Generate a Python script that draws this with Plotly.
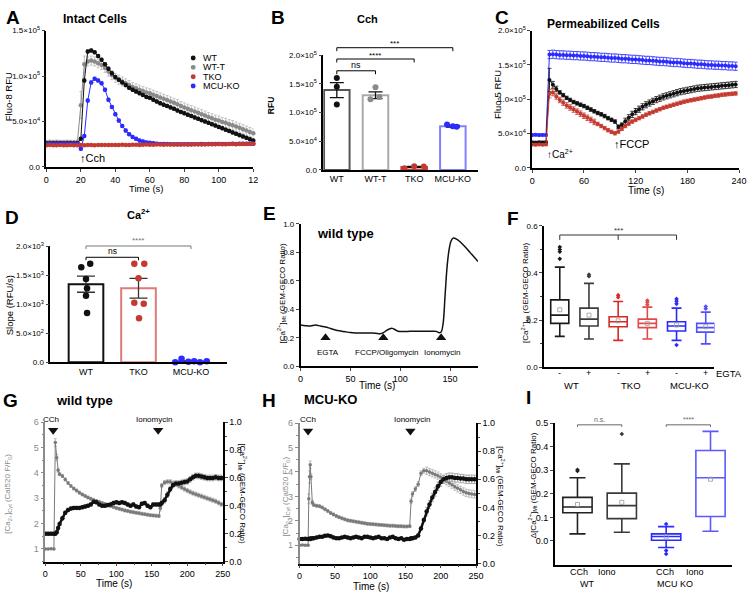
import plotly.graph_objects as go

W, H = 756, 597
FONT = "Liberation Sans, Arial, sans-serif"

BLACK = "#111111"
GREY = "#8a8a8a"
RED = "#c43a31"
BLUE = "#2b2bff"


def px(x):
    return x / W


def py(y):
    return 1 - y / H


# ---------------- data ----------------
# A: intact cells, Fluo-8 RFU
a_time = list(range(0, 122, 2))
a_wt = [26000, 25800, 26100, 25900, 26000, 26200, 25900, 26000, 25800, 26100,
        31000, 95000, 127000, 128000, 126000, 122000, 118000, 113000, 108000, 103000,
        99000, 96000, 93000, 90000, 87000, 85000, 83000, 81000, 79000, 77000,
        76000, 74000, 72000, 70000, 68500, 67000, 65500, 64000, 62000, 60500,
        59000, 57500, 56000, 54500, 53000, 51500, 50000, 48500, 47000, 45500,
        44000, 42500, 41000, 39500, 38000, 36500, 35000, 33500, 32000, 30500, 29000]
a_wtt = [27000, 27200, 26900, 27100, 27000, 26800, 27100, 27000, 26900, 27200,
         68000, 113000, 116000, 117000, 116000, 114000, 112000, 109000, 105000, 101000,
         98000, 96000, 94000, 92000, 90000, 88000, 86500, 85000, 83500, 82000,
         81000, 79500, 78000, 76500, 75000, 73500, 72000, 70500, 69000, 67000,
         65500, 64000, 62500, 61000, 59500, 58000, 56500, 55000, 53500, 52000,
         51000, 49500, 48500, 47000, 46000, 44500, 43000, 41500, 40000, 38500, 37000]
a_wtt_err = [2500] * 10 + [15000, 9000] + [5000] * 49
a_tko = [24000, 24100, 23900, 24000, 24200, 23900, 24000, 24100, 23900, 24000,
         24300, 24000, 24100, 24200, 24000, 24100, 24200, 24300, 24100, 24200,
         24300, 24200, 24400, 24300, 24200, 24400, 24500, 24300, 24400, 24600,
         24500, 24400, 24600, 24700, 24500, 24600, 24800, 24700, 24600, 24800,
         24900, 24700, 24800, 25000, 24900, 24800, 25000, 25100, 24900, 25000,
         25200, 25100, 25000, 25200, 25300, 25100, 25200, 25400, 25300, 25400, 25500]
a_mcu = [25500, 25300, 25600, 25400, 25500, 25700, 25400, 25500, 25300, 25600,
         20000, 34000, 73000, 93000, 97000, 95000, 92000, 85000, 74000, 66000,
         58000, 51000, 45000, 40000, 36000, 33000, 31000, 29000, 28000, 27000,
         26500, 26000, 25600, 25400, 25300, 25200, 25100, 25000, 25000, 24900,
         24900, 25000, 25100, 25000, 25100, 25200, 25100, 25200, 25300, 25200,
         25300, 25400, 25300, 25400, 25500, 25400, 25500, 25600, 25500, 25600, 25600]
a_names = ["WT", "WT-T", "TKO", "MCU-KO"]

# B: Cch peak RFU
b_groups = ["WT", "WT-T", "TKO", "MCU-KO"]
b_mean = [139000, 130000, 5000, 76000]
b_sem = [13000, 6000, 1000, 1500]
b_points = [[160000, 145000, 114000], [144000, 123000, 127000],
            [3000, 6500, 6000], [79000, 75000, 76000]]

# C: permeabilized cells, Fluo-5 RFU
c_time = list(range(0, 240, 4))
c_wt = [37000, 36800, 37200, 36900, 37100,
        128000, 121000, 115000, 110000, 106000, 102000, 99000, 96000, 94000, 92000,
        90000, 87500, 85000, 82500, 80000, 78000, 75500, 72500, 70000, 67500,
        60000, 63000, 68000, 73000, 78000, 82000, 85500, 89000, 92000, 94500,
        97000, 99500, 101500, 103500, 105000, 106500, 108000, 109500, 111000, 112000,
        113000, 114000, 115000, 116000, 116500, 117000, 117500, 118000, 118500, 119000,
        119500, 120000, 120500, 121000, 121500]
c_tko = [34000, 33800, 34200, 33900, 34100,
         108000, 110000, 104000, 99000, 95000, 91000, 88000, 85000, 82000, 79000,
         76000, 73000, 70000, 67000, 64000, 61000, 58000, 55000, 52500, 50500,
         53000, 57000, 61000, 64500, 67500, 70000, 72500, 75000, 77500, 79500,
         81500, 83500, 85500, 87500, 89000, 90500, 92000, 93500, 95000, 96500,
         97500, 98500, 99500, 100500, 101500, 102500, 103500, 104000, 105000, 105500,
         106500, 107000, 107500, 108000, 108500]
c_mcu = [48000, 48200, 47800, 48100, 47900,
         165000, 165500, 165000, 164500, 164500, 164000, 164000, 163500, 163500, 163000,
         163000, 162500, 162000, 162000, 161500, 161000, 161000, 160500, 160000, 160000,
         159500, 159000, 159000, 158500, 158000, 158000, 157500, 157000, 156500, 156500,
         156000, 155500, 155000, 155000, 154500, 154000, 153500, 153500, 153000, 152500,
         152000, 152000, 151500, 151000, 151000, 150500, 150000, 150000, 149500, 149500,
         149000, 149000, 148500, 148500, 148000]
c_wt_err = [2000] * 5 + [17000, 5000, 4000] + [2500] * 19 + [4500] * 33
c_tko_err = [1500] * 5 + [6000, 5000] + [4000] * 12 + [2500] * 41
c_mcu_err = [1500] * 5 + [6000] * 55

# D: Ca2+ slope
d_groups = ["WT", "TKO", "MCU-KO"]
d_mean = [1350, 1280, 15]
d_sem = [140, 170, 8]
d_points = [[1640, 1700, 1440, 1280, 1150, 850],
            [1700, 1700, 1030, 1010, 760, 1450],
            [0, 60, 10, 20, 0, 20]]
d_jitter = [[-0.09, 0.08, 0.0, 0.02, 0.0, 0.02],
            [-0.08, 0.11, -0.08, 0.1, 0.01, 0.0],
            [-0.3, -0.18, -0.05, 0.06, 0.17, 0.3]]
b_jitter = [[0.0, 0.0, 0.0], [0.0, -0.13, 0.1], [-0.25, 0.0, 0.25], [-0.15, 0.1, 0.0]]

# E: wild type GEM-GECO trace
e_time = [0, 5, 10, 15, 20, 25, 30, 35, 40, 45, 50, 55, 60, 65, 70, 75, 80,
          83, 86, 89, 92, 95, 98, 102, 110, 120, 130, 136, 139,
          141, 143, 145, 147, 149, 151, 153, 156, 160, 165, 170, 175, 178]
e_ratio = [0.29, 0.285, 0.283, 0.29, 0.282, 0.276, 0.265, 0.255, 0.248, 0.242,
           0.237, 0.234, 0.233, 0.234, 0.233, 0.232, 0.229,
           0.236, 0.25, 0.262, 0.266, 0.256, 0.246, 0.244, 0.245, 0.246, 0.245, 0.245, 0.236,
           0.24, 0.3, 0.5, 0.7, 0.82, 0.88, 0.9, 0.895, 0.875, 0.84, 0.8, 0.76, 0.735]
e_events = [25, 83, 141]
e_event_labels = ["EGTA", "FCCP/Oligomycin", "Ionomycin"]
e_label_x = [27, 87, 142]

# F: resting mito Ca2+ box stats
f_ticks = ["-", "+", "-", "+", "-", "+"]
f_lower = [0.131, 0.12, 0.114, 0.12, 0.114, 0.099]
f_q1 = [0.186, 0.175, 0.172, 0.168, 0.154, 0.149]
f_median = [0.221, 0.204, 0.193, 0.186, 0.175, 0.168]
f_q3 = [0.286, 0.251, 0.214, 0.204, 0.193, 0.186]
f_upper = [0.425, 0.356, 0.279, 0.255, 0.251, 0.234]
f_mean = [0.244, 0.221, 0.197, 0.186, 0.179, 0.172]
f_out = [[0.46, 0.49, 0.50, 0.51], [0.386, 0.393], [0.297, 0.306],
         [0.265, 0.276, 0.283], [0.094, 0.269, 0.28, 0.29], [0.248, 0.258]]
f_colors = ["#1a1a1a", "#3c3c3c", "#d62a2a", "#e24a4a", "#2a2aff", "#5050ff"]

# G: wild type, cyto + mito
g_time = [0, 4, 8, 12, 14, 16, 18, 20, 24, 28, 32, 36, 40, 44, 48, 52, 56, 60, 64, 68,
          72, 76, 80, 84, 88, 92, 96, 100, 104, 108, 112, 116, 120, 124, 128, 132, 136,
          140, 144, 148, 152, 156, 160, 162, 164, 168, 172, 176, 180, 184, 188, 192, 196,
          200, 204, 208, 212, 216, 220, 224, 228, 232, 236, 240, 244, 248]
g_cyt = [1.0, 1.0, 1.01, 1.0,
         5.2, 4.6, 4.1,
         3.95, 3.88, 3.74, 3.6, 3.48, 3.38, 3.3, 3.22, 3.15, 3.09,
         3.03, 2.98, 2.93, 2.89, 2.85, 2.81, 2.77, 2.73, 2.69, 2.65,
         2.61, 2.58, 2.55, 2.52, 2.5, 2.47, 2.45, 2.43, 2.41, 2.39,
         2.37, 2.35, 2.33, 2.32, 2.31, 2.3,
         2.6,
         3.5, 3.62, 3.65, 3.65, 3.6, 3.55, 3.48, 3.42, 3.36, 3.3,
         3.25, 3.2, 3.16, 3.12, 3.08, 3.04, 3.0, 2.96, 2.92, 2.88,
         2.82, 2.76]
g_mt = [0.2, 0.2, 0.2, 0.2,
        0.2, 0.21, 0.24,
        0.27, 0.31, 0.35, 0.37, 0.38, 0.385, 0.385, 0.385, 0.39, 0.395,
        0.4, 0.41, 0.43, 0.425, 0.41, 0.4, 0.4, 0.405, 0.41, 0.42,
        0.425, 0.42, 0.425, 0.42, 0.41, 0.4, 0.41, 0.395, 0.39, 0.415,
        0.42, 0.4, 0.39, 0.41, 0.41, 0.41,
        0.41,
        0.42, 0.44, 0.48, 0.52, 0.55, 0.56, 0.56, 0.565, 0.57, 0.575,
        0.59, 0.605, 0.615, 0.615, 0.61, 0.605, 0.6, 0.6, 0.6, 0.605,
        0.6, 0.6]
g_cyt_err = [0.02] * 4 + [0.15, 0.12, 0.08] + [0.06] * 36 + [0.1] + [0.08] * 22
g_mt_err = [0.012] * 44 + [0.02] * 22
g_events = [11, 159]

# H: MCU-KO, cyto + mito
h_time = [0, 4, 8, 12, 13, 14, 15, 16, 18, 20, 24, 28, 32, 36, 40, 44, 48, 52, 56, 60,
          64, 68, 72, 76, 80, 84, 88, 92, 96, 100, 104, 108, 112, 116, 120, 124, 128,
          132, 136, 140, 144, 148, 152, 156, 158, 160, 164, 168, 172, 176, 180, 184, 188,
          192, 196, 200, 204, 208, 212, 216, 220, 224, 228, 232, 236, 240, 244, 248]
h_cyt = [1.0, 1.01, 1.0, 1.0,
         2.9, 3.8, 4.3, 3.8, 2.75,
         2.65, 2.62, 2.6, 2.55, 2.47, 2.4, 2.32, 2.26, 2.2, 2.15,
         2.1, 2.06, 2.02, 2.0, 1.98, 1.96, 1.94, 1.92, 1.9, 1.88,
         1.87, 1.86, 1.85, 1.84, 1.83, 1.82, 1.81, 1.8, 1.8, 1.79,
         1.78, 1.78, 1.77, 1.77, 1.78,
         2.8,
         3.1, 3.3, 3.5, 3.95, 4.05, 4.05, 4.0, 3.95, 3.9, 3.85,
         3.78, 3.7, 3.62, 3.55, 3.48, 3.4, 3.33, 3.27, 3.2, 3.15,
         3.12, 3.1, 3.08]
h_mt = [0.175, 0.175, 0.176, 0.175,
        0.175, 0.176, 0.175, 0.178, 0.18,
        0.18, 0.185, 0.19, 0.19, 0.198, 0.2, 0.195, 0.185, 0.18, 0.18,
        0.185, 0.19, 0.185, 0.18, 0.185, 0.19, 0.185, 0.18, 0.19, 0.19,
        0.185, 0.18, 0.185, 0.19, 0.18, 0.18, 0.175, 0.185, 0.19, 0.18,
        0.175, 0.18, 0.17, 0.175, 0.175,
        0.18,
        0.18, 0.185, 0.2, 0.25, 0.31, 0.37, 0.42, 0.47, 0.51, 0.55,
        0.58, 0.6, 0.61, 0.615, 0.615, 0.61, 0.61, 0.605, 0.605, 0.6,
        0.6, 0.6, 0.6]
h_cyt_err = [0.02] * 4 + [0.2, 0.25, 0.15, 0.12, 0.08] + [0.06] * 35 + [0.1] * 6 + [0.15] * 18
h_mt_err = [0.008] * 45 + [0.01] * 5 + [0.03] * 18
h_events = [12, 157]

# I: delta mito Ca2+ box stats
i_lower = [0.03, 0.037, -0.028, 0.041]
i_q1 = [0.12, 0.095, 0.003, 0.104]
i_median = [0.144, 0.15, 0.019, 0.268]
i_q3 = [0.185, 0.203, 0.03, 0.384]
i_upper = [0.268, 0.327, 0.061, 0.465]
i_mean = [0.155, 0.164, 0.017, 0.262]
i_out = [[0.297, 0.302], [0.454], [0.072, -0.041, -0.055], []]
i_colors = ["#222222", "#3a3a3a", "#2a2aff", "#5a5aff"]

# ---------------- geometry (pixels) ----------------
GEO = {
    "A": ((44, 254), (25, 164)),
    "B": ((325, 482), (50, 167)),
    "C": ((537, 747), (25, 165)),
    "D": ((48, 227), (245, 363)),
    "E": ((302, 482), (222, 367)),
    "F": ((549, 722), (224, 368)),
    "G": ((43, 223), (424, 566)),
    "H": ((301, 480), (425, 568)),
    "I": ((560, 740), (425, 569)),
}
rngB = [-0.35, 3.65]
rngD = [-0.68, 2.68]
rngF = [-0.54, 5.3]
rngI = [-0.51, 3.49]


def xmap(panel, v, rng):
    x0, x1 = GEO[panel][0]
    return x0 + (v - rng[0]) / (rng[1] - rng[0]) * (x1 - x0)


fig = go.Figure()


def sc(**kw):
    kw.setdefault("showlegend", False)
    kw.setdefault("cliponaxis", False)
    fig.add_trace(go.Scatter(**kw))


# ---- A
for vals, col, ecol, err in [(a_wtt, GREY, "#b8b8b8", a_wtt_err),
                              (a_wt, BLACK, BLACK, [1500] * 61),
                              (a_mcu, BLUE, BLUE, [1500] * 61),
                              (a_tko, RED, RED, [700] * 61)]:
    sc(x=a_time, y=vals, mode="lines+markers", line=dict(color=col, width=1),
       marker=dict(size=4.5, color=col),
       error_y=dict(type="data", array=err, color=ecol, thickness=0.8, width=1.5),
       xaxis="x", yaxis="y")

# ---- B
b_edge = ["#555555", "#aaaaaa", RED, "#8080ff"]
b_pt = [BLACK, GREY, RED, BLUE]
for i, g in enumerate(b_groups):
    fig.add_trace(go.Bar(x=[i], y=[b_mean[i]], width=0.66, showlegend=False,
                         marker=dict(color="white", line=dict(color=b_edge[i], width=2)),
                         error_y=dict(type="data", array=[b_sem[i]], color=BLACK, thickness=1.3, width=7),
                         xaxis="x2", yaxis="y2"))
for i, g in enumerate(b_groups):
    sc(x=[i + j for j in b_jitter[i]], y=b_points[i], mode="markers",
       marker=dict(size=6, color=b_pt[i]), xaxis="x2", yaxis="y2")

# ---- C
for vals, col, err in [(c_mcu, BLUE, c_mcu_err), (c_wt, BLACK, c_wt_err), (c_tko, RED, c_tko_err)]:
    sc(x=c_time, y=vals, mode="lines+markers", line=dict(color=col, width=1),
       marker=dict(size=4, color=col),
       error_y=dict(type="data", array=err, color=col, thickness=0.8, width=2),
       xaxis="x3", yaxis="y3")

# ---- D
d_edge = [BLACK, "#e07a7a", BLUE]
d_pt = [BLACK, RED, BLUE]
for i, g in enumerate(d_groups):
    fig.add_trace(go.Bar(x=[i], y=[d_mean[i]], width=0.66, showlegend=False,
                         marker=dict(color="white", line=dict(color=d_edge[i], width=2)),
                         error_y=dict(type="data", array=[d_sem[i]], color="#333333", thickness=1.3, width=9),
                         xaxis="x4", yaxis="y4"))
for i, g in enumerate(d_groups):
    sc(x=[i + j for j in d_jitter[i]], y=d_points[i], mode="markers",
       marker=dict(size=6.5, color=d_pt[i]), xaxis="x4", yaxis="y4")

# ---- E
sc(x=e_time, y=e_ratio, mode="lines", line=dict(color=BLACK, width=1.5, shape="spline"),
   xaxis="x5", yaxis="y5")
sc(x=e_events, y=[0.2] * 3, mode="markers", marker=dict(symbol="triangle-up", size=9, color=BLACK),
   xaxis="x5", yaxis="y5")

# ---- F
for i in range(6):
    fig.add_trace(go.Box(x=[i], q1=[f_q1[i]], median=[f_median[i]], q3=[f_q3[i]],
                         lowerfence=[f_lower[i]], upperfence=[f_upper[i]],
                         width=0.62, whiskerwidth=0.55, boxpoints=False,
                         line=dict(color=f_colors[i], width=1.6), fillcolor="rgba(255,255,255,0)",
                         showlegend=False, xaxis="x6", yaxis="y6"))
    sc(x=[i] * len(f_out[i]), y=f_out[i], mode="markers",
       marker=dict(size=3.5, color=f_colors[i], symbol="diamond"), xaxis="x6", yaxis="y6")
    sc(x=[i], y=[f_mean[i]], mode="markers",
       marker=dict(size=4, color="#999999", symbol="square-open", line=dict(width=0.8)),
       xaxis="x6", yaxis="y6")

# ---- G
sc(x=g_time, y=g_cyt, mode="lines+markers", line=dict(color="#7a7a7a", width=1),
   marker=dict(size=3.5, color="#7a7a7a"),
   error_y=dict(type="data", array=g_cyt_err, color="#b0b0b0", thickness=0.8, width=1.5),
   xaxis="x7", yaxis="y7")
sc(x=g_time, y=g_mt, mode="lines+markers", line=dict(color=BLACK, width=2.5),
   marker=dict(size=4.5, color=BLACK),
   error_y=dict(type="data", array=g_mt_err, color="#9a9a9a", thickness=0.8, width=1.5),
   xaxis="x7", yaxis="y10")
sc(x=g_events, y=[5.68] * 2, mode="markers", marker=dict(symbol="triangle-down", size=9, color=BLACK),
   xaxis="x7", yaxis="y7")

# ---- H
sc(x=h_time, y=h_cyt, mode="lines+markers", line=dict(color="#7a7a7a", width=1),
   marker=dict(size=3.5, color="#7a7a7a"),
   error_y=dict(type="data", array=h_cyt_err, color="#b0b0b0", thickness=0.8, width=1.5),
   xaxis="x8", yaxis="y8")
sc(x=h_time, y=h_mt, mode="lines+markers", line=dict(color=BLACK, width=2.5),
   marker=dict(size=4.5, color=BLACK),
   error_y=dict(type="data", array=h_mt_err, color="#9a9a9a", thickness=0.8, width=1.5),
   xaxis="x8", yaxis="y11")
sc(x=h_events, y=[5.68] * 2, mode="markers", marker=dict(symbol="triangle-down", size=9, color=BLACK),
   xaxis="x8", yaxis="y8")

# ---- I
for i in range(4):
    fig.add_trace(go.Box(x=[i], q1=[i_q1[i]], median=[i_median[i]], q3=[i_q3[i]],
                         lowerfence=[i_lower[i]], upperfence=[i_upper[i]],
                         width=0.66, whiskerwidth=0.55, boxpoints=False,
                         line=dict(color=i_colors[i], width=1.6), fillcolor="rgba(255,255,255,0)",
                         showlegend=False, xaxis="x9", yaxis="y9"))
    if i_out[i]:
        sc(x=[i] * len(i_out[i]), y=i_out[i], mode="markers",
           marker=dict(size=3.5, color=i_colors[i], symbol="diamond"), xaxis="x9", yaxis="y9")
    sc(x=[i], y=[i_mean[i]], mode="markers",
       marker=dict(size=4, color="#999999", symbol="square-open", line=dict(width=0.8)),
       xaxis="x9", yaxis="y9")

# ---------------- axes ----------------
TF = dict(size=8, family=FONT, color="black")


def ax_x(panel, rng, **kw):
    x0, x1 = GEO[panel][0]
    d = dict(domain=[px(x0), px(x1)], range=rng, showline=True, linecolor="black", linewidth=1.5,
             ticks="outside", ticklen=3, tickwidth=1.2, tickfont=TF, showgrid=False, zeroline=False)
    d.update(kw)
    return d


def ax_y(panel, rng, **kw):
    y0, y1 = GEO[panel][1]
    d = dict(domain=[py(y1), py(y0)], range=rng, showline=True, linecolor="black", linewidth=1.5,
             ticks="outside", ticklen=3, tickwidth=1.2, tickfont=TF, showgrid=False, zeroline=False)
    d.update(kw)
    return d


sci5 = ["0.0", "5.0×10<sup>4</sup>", "1.0×10<sup>5</sup>", "1.5×10<sup>5</sup>", "2.0×10<sup>5</sup>"]
sci3 = ["0.0", "5.0×10<sup>2</sup>", "1.0×10<sup>3</sup>", "1.5×10<sup>3</sup>", "2.0×10<sup>3</sup>"]
minor_g = dict(ticks="outside", ticklen=2, dtick=25)
TF9 = dict(size=9, family=FONT, color="black")

fig.update_layout(
    xaxis=ax_x("A", [0, 120], anchor="y", tickvals=[0, 20, 40, 60, 80, 100, 120],
               ticktext=["0", "20", "40", "60", "80", "100", "12"], tickfont=TF9),
    yaxis=ax_y("A", [0, 150000], anchor="x", tickvals=[0, 50000, 100000, 150000], ticktext=sci5[:4]),
    xaxis2=ax_x("B", rngB, anchor="y2", tickvals=[0, 1, 2, 3], ticktext=b_groups, ticks="", tickfont=TF9),
    yaxis2=ax_y("B", [0, 200000], anchor="x2", tickvals=[0, 50000, 100000, 150000, 200000], ticktext=sci5),
    xaxis3=ax_x("C", [0, 240], anchor="y3", tickvals=[0, 60, 120, 180, 240], tickfont=TF9),
    yaxis3=ax_y("C", [0, 200000], anchor="x3", tickvals=[0, 50000, 100000, 150000, 200000], ticktext=sci5),
    xaxis4=ax_x("D", rngD, anchor="y4", tickvals=[0, 1, 2], ticktext=d_groups, ticks="", tickfont=TF9),
    yaxis4=ax_y("D", [0, 2000], anchor="x4", tickvals=[0, 500, 1000, 1500, 2000], ticktext=sci3),
    xaxis5=ax_x("E", [0, 178], anchor="y5", tickvals=[0, 50, 100, 150], tickfont=TF9),
    yaxis5=ax_y("E", [0, 1], anchor="x5", dtick=0.2, tickformat=".1f"),
    xaxis6=ax_x("F", rngF, anchor="y6", tickvals=[], ticks=""),
    yaxis6=ax_y("F", [0, 0.6], anchor="x6", dtick=0.2, tickformat=".1f",
                minor=dict(ticks="outside", ticklen=2, dtick=0.1)),
    xaxis7=ax_x("G", [0, 250], anchor="y7", dtick=50, minor=minor_g, tickfont=TF9),
    yaxis7=ax_y("G", [0.5, 6], anchor="x7", dtick=1, tick0=0, linecolor=GREY, tickcolor=GREY,
                tickfont=dict(size=9, family=FONT, color=GREY),
                minor=dict(ticks="outside", ticklen=2, dtick=0.5, tickcolor=GREY)),
    yaxis10=dict(overlaying="y7", side="right", anchor="x7", range=[0, 1], dtick=0.2, tickformat=".1f",
                 showline=True, linecolor="black", linewidth=1.5, ticks="outside", ticklen=3,
                 tickfont=TF9, showgrid=False, zeroline=False,
                 minor=dict(ticks="outside", ticklen=2, dtick=0.1)),
    xaxis8=ax_x("H", [0, 250], anchor="y8", dtick=50, minor=minor_g, tickfont=TF9),
    yaxis8=ax_y("H", [0.25, 6], anchor="x8", dtick=1, tick0=0, linecolor=GREY, tickcolor=GREY,
                tickfont=dict(size=9, family=FONT, color=GREY),
                minor=dict(ticks="outside", ticklen=2, dtick=0.5, tickcolor=GREY)),
    yaxis11=dict(overlaying="y8", side="right", anchor="x8", range=[0, 1], dtick=0.2, tickformat=".1f",
                 showline=True, linecolor="black", linewidth=1.5, ticks="outside", ticklen=3,
                 tickfont=TF9, showgrid=False, zeroline=False,
                 minor=dict(ticks="outside", ticklen=2, dtick=0.1)),
    xaxis9=ax_x("I", rngI, anchor="y9", tickvals=[], ticks=""),
    yaxis9=ax_y("I", [-0.1, 0.5], anchor="x9", tickvals=[0, 0.1, 0.2, 0.3, 0.4, 0.5],
                ticktext=["0.0", "0.1", "0.2", "0.3", "0.4", "0.5"], tickfont=TF9),
)

# ---------------- annotations & shapes ----------------
ann = []
shp = []


def text(x, y, t, size=9, bold=False, color="black", angle=0, xanchor="center", yanchor="middle"):
    if bold:
        t = "<b>" + t + "</b>"
    ann.append(dict(x=px(x), y=py(y), xref="paper", yref="paper", text=t, showarrow=False,
                    textangle=angle, xanchor=xanchor, yanchor=yanchor,
                    font=dict(size=size, family=FONT, color=color)))


def line(x0, y0, x1, y1, color="black", width=1):
    shp.append(dict(type="line", xref="paper", yref="paper", x0=px(x0), y0=py(y0), x1=px(x1), y1=py(y1),
                    line=dict(color=color, width=width)))


def bracket(panel, rng, a, b, y, drop, label, ty, color="black", size=8, mid=None):
    xa, xb = xmap(panel, a, rng), xmap(panel, b, rng)
    line(xa, y, xb, y, color)
    line(xa, y, xa, y + drop, color)
    line(xb, y, xb, y + drop, color)
    if mid is not None:
        xm = xmap(panel, mid, rng)
        line(xm, y, xm, y + drop, color)
    text((xa + xb) / 2 if mid is None else xmap(panel, mid, rng), ty, label, size=size, color=color)


# panel letters
for lt, x, y in [("A", 10, 12), ("B", 279, 12), ("C", 506, 12), ("D", 9, 215), ("E", 270, 211),
                 ("F", 518, 216), ("G", 8, 402), ("H", 270, 402), ("I", 533, 399)]:
    text(x, y, lt, size=19, bold=True)

# titles
text(93, 13, "Intact Cells", 12, True)
text(370, 13, "Cch", 11, True)
text(609, 18, "Permeabilized Cells", 12, True)
text(138, 212, "Ca<sup>2+</sup>", 11, True)
text(348, 232, "wild type", 13, True)
text(83, 402, "wild type", 13, True)
text(332, 401, "MCU-KO", 13, True)

# axis titles
mt = "[Ca<sup>2+</sup>]<sub>Mt</sub> (GEM-GECO Ratio)"
cyt = "[Ca<sub>2+</sub>]<sub>Cyt</sub> (Cal520 F/F<sub>0</sub>)"
text(5, 92, "Fluo-8 RFU", 9.5, angle=-90)
text(272, 102, "RFU", 8.5, True, angle=-90)
text(502, 90, "Fluo-5 RFU", 9.5, angle=-90)
text(6, 305, "Slope (RFU/s)", 9.5, angle=-90)
text(283, 292, mt, 8, angle=-90)
text(530, 292, mt, 8, angle=-90)
text(5, 497, cyt, 8, color=GREY, angle=-90)
text(243, 497, mt, 8, angle=90)
text(287, 500, cyt, 8, color=GREY, angle=-90)
text(505, 500, mt, 8, angle=90)
text(537, 488, "Δ" + mt, 8, angle=-90)
text(145, 186, "Time (s)", 9.5)
text(653, 188, "Time (s)", 10)
text(380, 387, "Time (s)", 10)
text(113, 588, "Time (s)", 10)
text(373, 591, "Time (s)", 10)

# legend A
for name, col, y in zip(["WT", "WT-T", "TKO", "MCU-KO"], [BLACK, GREY, RED, BLUE], [53, 62.5, 72, 81.5]):
    shp.append(dict(type="circle", xref="paper", yref="paper", x0=px(190.5), x1=px(195.5),
                    y0=py(y + 2.5), y1=py(y - 2.5), fillcolor=col, line=dict(color=col, width=0)))
    text(201, y, name, 9, xanchor="left")

# event labels
text(76, 155, "↑Cch", 11, xanchor="left")
text(550, 151, "↑Ca<sup>2+</sup>", 10, xanchor="left")
text(618, 141, "↑FCCP", 11, xanchor="left")
for lx, lab in zip(e_label_x, e_event_labels):
    ann.append(dict(x=lx, y=0.1, xref="x5", yref="y5", text=lab, showarrow=False,
                    font=dict(size=8, family=FONT, color="black")))
for x, lab in [(49, "CCh"), (153, "Ionomycin"), (309, "CCh"), (415, "Ionomycin")]:
    text(x, 421, lab, 8)

# F / I category labels
for i, t in enumerate(f_ticks):
    text(xmap("F", i, rngF), 374, t, 9)
for x, lab in [(577, "WT"), (637, "TKO"), (697, "MCU-KO")]:
    text(x, 387, lab, 9.5)
text(737, 374, "EGTA", 9.5)
for x, lab in [(584, "CCh"), (613, "Iono"), (672, "CCh"), (702, "Iono")]:
    text(x, 577, lab, 9)
text(593, 589, "WT", 9)
text(682, 589, "MCU KO", 9)

# significance brackets
bracket("B", rngB, 0, 3, 42.5, 3.5, "***", 38)
bracket("B", rngB, 0, 2, 54, 3.5, "****", 50)
bracket("B", rngB, 0, 1, 66, 3.5, "ns", 60, size=9)
bracket("D", rngD, 0, 2, 244.5, 3, "****", 239, color="#777777")
bracket("D", rngD, 0, 1, 256, 3, "ns", 250, size=8.5)
bracket("F", rngF, 0, 4, 233.3, 5, "***", 228.5, color="#333333", mid=2)
bracket("I", rngI, 0, 1, 426.7, 2, "n.s.", 421, color="#666666", size=7)
bracket("I", rngI, 2, 3, 426.7, 2, "****", 421.5, color="#666666", size=7)

fig.update_layout(
    width=W, height=H, margin=dict(l=0, r=0, t=0, b=0),
    paper_bgcolor="white", plot_bgcolor="white",
    font=dict(family=FONT, size=9, color="black"),
    barmode="overlay", boxmode="overlay", showlegend=False,
    annotations=ann, shapes=shp,
)

fig.write_html("out.html", config={"displayModeBar": False},
               post_script="document.body.style.margin='0';document.body.style.overflow='hidden';")
